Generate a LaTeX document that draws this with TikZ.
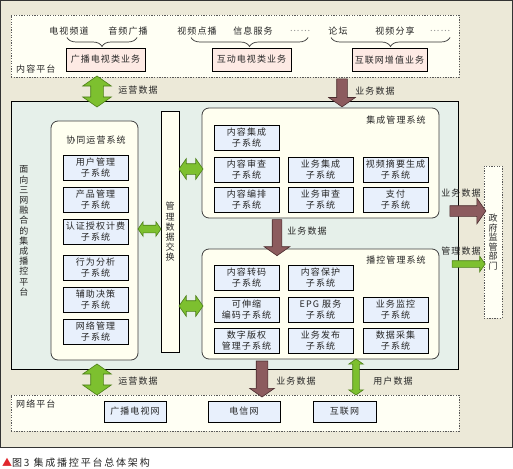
\documentclass[tikz,border=0pt]{standalone}
\usepackage{fontspec}
\newfontfamily\cjk{Noto Sans CJK SC}[LetterSpace=12]
\newfontfamily\cjkcap{Noto Sans CJK SC}[LetterSpace=18]
\usetikzlibrary{shapes.arrows,decorations.pathreplacing,calc}
\definecolor{outerbg}{HTML}{ECE9D8}
\definecolor{creamfill}{HTML}{FFFFF4}
\definecolor{pinkfill}{HTML}{FDEAE4}
\definecolor{midfill}{HTML}{E6F0EA}
\definecolor{ivoryfill}{HTML}{FFFFF0}
\definecolor{subblue}{HTML}{E8F0FC}
\definecolor{gfill}{HTML}{7DC02F}
\definecolor{gline}{HTML}{4C7E18}
\definecolor{bfill}{HTML}{8C5B5E}
\definecolor{bline}{HTML}{4A2C2E}
\definecolor{txt}{HTML}{262626}
\definecolor{capred}{HTML}{E0262C}
\begin{document}
\begin{tikzpicture}[x=1pt,y=-1pt,
  lbl/.style={font=\cjk\fontsize{9}{10}\selectfont, text=txt, inner sep=0},
  vlbl/.style={lbl, align=center, font=\cjk\fontsize{9}{10.2}\selectfont},
  dots/.style={lbl, text=black!45},
  subbox/.style={draw=black, line width=0.8pt, fill=subblue, minimum width=65pt, minimum height=25pt, inner sep=0, align=center, text=txt, font=\cjk\fontsize{9}{11}\selectfont},
  pinkbox/.style={draw=black, line width=0.8pt, fill=pinkfill, minimum height=23pt, inner sep=0, text=txt, font=\cjk\fontsize{9}{10}\selectfont},
  netbox/.style={draw=black, line width=0.8pt, fill=subblue, minimum height=21pt, inner sep=0, text=txt, font=\cjk\fontsize{9}{10}\selectfont},
  sysbox/.style={draw=black!75, line width=0.8pt, rounded corners=7pt, fill=ivoryfill, inner sep=0},
  dashbox/.style={draw=black!65, line width=0.8pt, dash pattern=on 1.3pt off 1.3pt, fill=creamfill, inner sep=0},
  midbox/.style={draw=black, line width=0.8pt, fill=midfill, inner sep=0},
  gdbl/.style={double arrow, draw=gline, fill=gfill, line width=0.6pt, inner xsep=0, double arrow tip angle=110},
  bsgl/.style={single arrow, draw=bline, fill=bfill, line width=0.6pt, inner xsep=0, single arrow tip angle=110},
  gsgl/.style={single arrow, draw=gline, fill=gfill, line width=0.6pt, inner xsep=0, single arrow tip angle=110},
  curly/.style={decorate, decoration={brace, mirror, amplitude=9pt}, draw=black!80, line width=0.7pt}
]
\useasboundingbox (0,0) rectangle (513,468);
\fill[white] (0,0) rectangle (513,468);
% outer frame
\draw[fill=outerbg, draw=black!80, line width=0.8pt] (0.5,0.5) rectangle (512.5,447);

% content platform
\node[dashbox, minimum width=448pt, minimum height=62pt] (cp) at (235,46) {};
\node[lbl, anchor=west] (cplbl) at (16,69) {内容平台};
\node[lbl] (t1) at (69,31) {电视频道};
\node[lbl] (t2) at (128,31) {音频广播};
\node[lbl] (t3) at (197,31) {视频点播};
\node[lbl] (t4) at (253,31) {信息服务};
\node[dots] (t5) at (300,31) {……};
\node[lbl] (t6) at (338,31) {论坛};
\node[lbl] (t7) at (395,31) {视频分享};
\node[dots] (t8) at (440,31) {……};
\coordinate (br1a) at (67,37.5);  \coordinate (br1b) at (137,37.5);
\coordinate (br2a) at (191,37.5); \coordinate (br2b) at (308,37.5);
\coordinate (br3a) at (331,37.5); \coordinate (br3b) at (450,37.5);
\draw[curly] (br1a) -- (br1b);
\draw[curly] (br2a) -- (br2b);
\draw[curly] (br3a) -- (br3b);
\node[pinkbox, minimum width=79pt] (b1) at (105.5,59.5) {广播电视类业务};
\node[pinkbox, minimum width=79pt] (b2) at (251.5,59.5) {互动电视类业务};
\node[pinkbox, minimum width=75pt] (b3) at (389.5,60) {互联网增值业务};

% middle platform
\node[midbox, minimum width=447pt, minimum height=268pt] (mid) at (234.5,235) {};
\node[vlbl] (midlbl) at (24,231) {面\\向\\三\\网\\融\\合\\的\\集\\成\\播\\控\\平\\台};

% collaborative operation system
\node[sysbox, minimum width=87pt, minimum height=239pt] (co) at (94.5,240.5) {};
\node[lbl] (cotitle) at (96,140) {协同运营系统};
\node[subbox] (c1) at (95.5,168) {用户管理\\子系统};
\node[subbox] (c2) at (95.5,199.5) {产品管理\\子系统};
\node[subbox] (c3) at (95.5,232) {认证授权计费\\子系统};
\node[subbox] (c4) at (95.5,267.5) {行为分析\\子系统};
\node[subbox] (c5) at (95.5,299.5) {辅助决策\\子系统};
\node[subbox] (c6) at (95.5,331.5) {网络管理\\子系统};

% management data exchange bar
\node[sysbox, rounded corners=0pt, draw=black, minimum width=18pt, minimum height=241pt] (bar) at (170,231.5) {};
\node[vlbl] (barlbl) at (170,232) {管\\理\\数\\据\\交\\换};

% integration management system
\node[sysbox, minimum width=237pt, minimum height=110pt] (im) at (320.5,163) {};
\node[lbl] (imtitle) at (396,120) {集成管理系统};
\node[subbox] (i1) at (246.5,138) {内容集成\\子系统};
\node[subbox] (i2) at (246.5,169.5) {内容审查\\子系统};
\node[subbox] (i3) at (320.5,169.5) {业务集成\\子系统};
\node[subbox] (i4) at (395.5,169.5) {视频摘要生成\\子系统};
\node[subbox] (i5) at (246.5,199.5) {内容编排\\子系统};
\node[subbox] (i6) at (320.5,199.5) {业务审查\\子系统};
\node[subbox] (i7) at (395.5,199.5) {支付\\子系统};

% broadcast control management system
\node[sysbox, minimum width=237pt, minimum height=110pt] (bc) at (320.5,304) {};
\node[lbl] (bctitle) at (396,260) {播控管理系统};
\node[subbox] (p1) at (246.5,278) {内容转码\\子系统};
\node[subbox] (p2) at (320.5,278) {内容保护\\子系统};
\node[subbox] (p3) at (246.5,309.5) {可伸缩\\编码子系统};
\node[subbox] (p4) at (320.5,309.5) {EPG 服务\\子系统};
\node[subbox] (p5) at (395.5,309.5) {业务监控\\子系统};
\node[subbox] (p6) at (246.5,340.5) {数字版权\\管理子系统};
\node[subbox] (p7) at (320.5,340.5) {业务发布\\子系统};
\node[subbox] (p8) at (395.5,340.5) {数据采集\\子系统};

% government
\node[dashbox, minimum width=18pt, minimum height=152pt] (gov) at (493,242) {};
\node[vlbl, font=\cjk\fontsize{9}{9.6}\selectfont] (govlbl) at (493,242) {政\\府\\监\\管\\部\\门};

% network platform
\node[dashbox, minimum width=448pt, minimum height=36pt] (np) at (235,413) {};
\node[lbl, anchor=west] (nplbl) at (16,404) {网络平台};
\node[netbox, minimum width=62pt] (n1) at (135,411.5) {广播电视网};
\node[netbox, minimum width=72pt] (n2) at (244,411.5) {电信网};
\node[netbox, minimum width=63pt] (n3) at (344.5,411.5) {互联网};

% fat arrows (inner ysep = half shaft width)
\node[gdbl, rotate=90, minimum height=31pt, inner ysep=6pt, double arrow head extend=8pt] (a1) at (97,91.5) {};
\node[lbl] (a1l) at (138,90) {运营数据};
\node[bsgl, rotate=-90, minimum height=28pt, inner ysep=5pt, single arrow head extend=8pt] (a2) at (342,91) {};
\node[lbl] (a2l) at (375,91) {业务数据};
\node[gdbl, minimum height=23pt, inner ysep=3.5pt, double arrow head extend=3.5pt] (a3) at (149.5,229) {};
\node[gdbl, minimum height=24pt, inner ysep=5pt, double arrow head extend=5pt] (a4) at (191,169) {};
\node[gdbl, minimum height=24pt, inner ysep=5pt, double arrow head extend=5pt] (a5) at (191,306) {};
\node[bsgl, rotate=-90, minimum height=36pt, inner ysep=4.5pt, single arrow head extend=8pt] (a6) at (277,236) {};
\node[lbl] (a6l) at (307,231) {业务数据};
\node[bsgl, minimum height=36pt, inner ysep=5pt, single arrow head extend=7.5pt] (a7) at (466,211) {};
\node[lbl] (a7l) at (461,193) {业务数据};
\node[gsgl, minimum height=33pt, inner ysep=3pt, single arrow head extend=4.5pt] (a8) at (467.5,264) {};
\node[lbl] (a8l) at (461,251) {管理数据};
\node[gdbl, rotate=90, minimum height=31pt, inner ysep=6pt, double arrow head extend=8pt] (a9) at (97,379.5) {};
\node[lbl] (a9l) at (138,381) {运营数据};
\node[bsgl, rotate=-90, minimum height=36pt, inner ysep=5.5pt, single arrow head extend=6.5pt] (a10) at (262,377) {};
\node[lbl] (a10l) at (296,381) {业务数据};
\node[gdbl, rotate=90, minimum height=36pt, inner ysep=3pt, double arrow head extend=4pt] (a11) at (356,377) {};
\node[lbl] (a11l) at (393,381) {用户数据};

% caption
\node[anchor=west, inner sep=0, text=txt, font=\cjkcap\fontsize{10}{11}\selectfont] (cap) at (2,463) {\textcolor{capred}{▲}图3 集成播控平台总体架构};
\end{tikzpicture}
\end{document}
